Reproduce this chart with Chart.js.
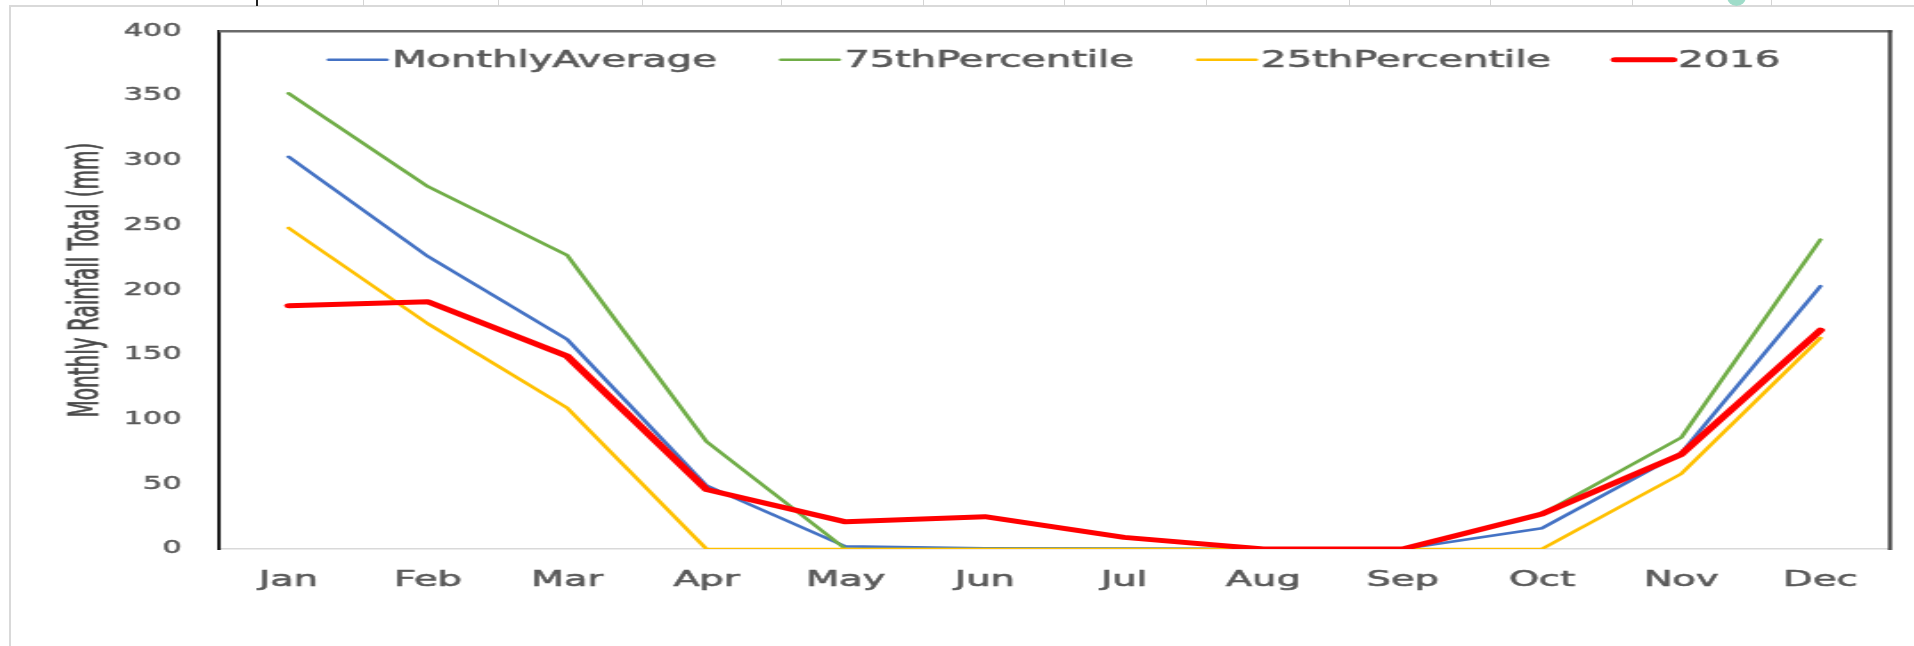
<!DOCTYPE html>
<html>
<head>
<meta charset="utf-8">
<title>Monthly Rainfall Total</title>
<script src="https://cdn.jsdelivr.net/npm/chart.js@4.4.1/dist/chart.umd.min.js"></script>
<style>
  html, body { margin: 0; padding: 0; background: #ffffff; }
  body { width: 1914px; height: 646px; overflow: hidden; position: relative; }
  #sheet { position: absolute; left: 0; top: 0; width: 1914px; height: 646px; }
  .frame { position: absolute; left: 9px; top: 5px; right: 0; bottom: 0;
           border-left: 2px solid #d9d9d9; border-top: 2px solid #d9d9d9; }
  .cellLine { position: absolute; top: 0; width: 1px; height: 6px; background: #d4d4d4; }
  .cursorLine { position: absolute; top: 0; left: 256px; width: 2px; height: 6px; background: #222; }
  .shape { position: absolute; left: 1727px; top: -13px; width: 19px; height: 19px;
           border-radius: 50%; background: #9fdcc9; }
  #stage { position: absolute; left: 0; top: 0; width: 1075px; height: 646px; transform-origin: 0 0; }
</style>
</head>
<body>
<div id="sheet">
  <div class="frame"></div>
  <div class="cursorLine"></div>
  <div class="shape"></div>
</div>
<div id="stage"><canvas id="chart" width="1075" height="646"></canvas></div>

<script>
// ---- data ----
const months = ['Jan', 'Feb', 'Mar', 'Apr', 'May', 'Jun', 'Jul', 'Aug', 'Sep', 'Oct', 'Nov', 'Dec'];
const monthlyAverage = [303, 226, 162, 49, 2, 0.5, 0.3, 0, 0, 16, 74, 203];
const percentile75   = [352, 280, 227, 83, 0, 0, 0, 0, 0, 27, 86, 239];
const percentile25   = [248, 174, 109, 0, 0, 0, 0, 0, 0, 0, 58, 163];
const rain2016       = [188, 191, 149, 46, 21, 25, 9, 0, 0, 27, 73, 169];
const seriesNames    = ['MonthlyAverage', '75thPercentile', '25thPercentile', '2016'];
const yTickValues    = [0, 50, 100, 150, 200, 250, 300, 350, 400];
const yTitle         = 'Monthly Rainfall Total (mm)';

// ---- spreadsheet gridlines above the chart ----
const cellEdges = [363, 498, 642, 781, 923, 1064, 1206, 1349, 1490, 1632, 1771];
const sheet = document.getElementById('sheet');
cellEdges.forEach(x => {
  const d = document.createElement('div');
  d.className = 'cellLine';
  d.style.left = x + 'px';
  sheet.appendChild(d);
});

// the chart is drawn narrow and widened horizontally to the page width
const CANVAS_W = 1075;
const STRETCH = 1914 / CANVAS_W;
document.getElementById('stage').style.transform = `scaleX(${STRETCH})`;

const FONT = "'DejaVu Sans', sans-serif";
Chart.defaults.font.family = FONT;
Chart.defaults.color = '#595959';

// legend drawn inside the plot area, centred along its top edge
const insideLegend = {
  id: 'insideLegend',
  afterDatasetsDraw(chart, args, opts) {
    const { ctx, chartArea } = chart;
    ctx.save();
    ctx.font = `${opts.size}px ${opts.family}`;
    const items = chart.data.datasets.map(ds => ({
      text: ds.label, color: ds.borderColor, width: ds.borderWidth,
      w: ctx.measureText(ds.label).width
    }));
    const total = items.reduce((s, it) => s + opts.sample + opts.gap + it.w, 0)
                + opts.spacing * (items.length - 1);
    let x = (chartArea.left + chartArea.right) / 2 - total / 2;
    const lineY = chartArea.top + opts.lineOffset;
    const textY = chartArea.top + opts.textOffset;
    for (const it of items) {
      ctx.strokeStyle = it.color;
      ctx.lineWidth = it.width;
      ctx.lineCap = 'round';
      ctx.beginPath();
      ctx.moveTo(x, lineY);
      ctx.lineTo(x + opts.sample, lineY);
      ctx.stroke();
      x += opts.sample + opts.gap;
      ctx.fillStyle = opts.color;
      ctx.textAlign = 'left';
      ctx.textBaseline = 'middle';
      ctx.fillText(it.text, x, textY);
      ctx.strokeStyle = opts.color;
      ctx.lineWidth = opts.strokeWidth;
      ctx.strokeText(it.text, x, textY);
      x += it.w + opts.spacing;
    }
    ctx.restore();
  }
};

// vertical axis title, glyphs slightly widened across the axis
const sideTitle = {
  id: 'sideTitle',
  afterDraw(chart, args, opts) {
    const { ctx } = chart;
    ctx.save();
    ctx.translate(opts.x, opts.y);
    ctx.rotate(-Math.PI / 2);
    ctx.scale(1, opts.heightScale);
    ctx.font = `${opts.size}px ${opts.family}`;
    ctx.fillStyle = opts.color;
    ctx.textAlign = 'center';
    ctx.textBaseline = 'middle';
    ctx.fillText(opts.text, 0, 0);
    ctx.strokeStyle = opts.color;
    ctx.lineWidth = opts.strokeWidth;
    ctx.strokeText(opts.text, 0, 0);
    ctx.restore();
  }
};

// top and right edges of the plot frame
const plotFrame = {
  id: 'plotFrame',
  afterDraw(chart, args, opts) {
    const { ctx, chartArea: { left, right, top, bottom } } = chart;
    ctx.save();
    ctx.lineCap = 'butt';
    ctx.strokeStyle = opts.topColor;
    ctx.lineWidth = opts.topWidth;
    ctx.beginPath();
    ctx.moveTo(left, top);
    ctx.lineTo(right + opts.rightWidth / 2, top);
    ctx.stroke();
    ctx.strokeStyle = opts.rightColor;
    ctx.lineWidth = opts.rightWidth;
    ctx.beginPath();
    ctx.moveTo(right, top - 1);
    ctx.lineTo(right, bottom + 1);
    ctx.stroke();
    ctx.restore();
  }
};

const seriesValues = [monthlyAverage, percentile75, percentile25, rain2016];
const seriesColors = ['#4472C4', '#70AD47', '#FFC000', '#FF0000'];
const seriesWidths = [2.6, 2.6, 2.6, 5];
const seriesOrder  = [3, 2, 1, 0];   // 2016 on top

new Chart(document.getElementById('chart'), {
  type: 'line',
  data: {
    labels: months,
    datasets: seriesNames.map((name, i) => ({
      label: name,
      data: seriesValues[i],
      borderColor: seriesColors[i],
      backgroundColor: seriesColors[i],
      borderWidth: seriesWidths[i],
      borderJoinStyle: 'round',
      borderCapStyle: 'round',
      pointRadius: 0,
      pointHoverRadius: 0,
      tension: 0,
      fill: false,
      order: seriesOrder[i]
    }))
  },
  options: {
    responsive: false,
    animation: false,
    devicePixelRatio: 1,
    layout: { padding: { left: 0, right: 13.5, top: 24, bottom: 0 } },
    plugins: {
      legend: { display: false },
      tooltip: { enabled: false },
      insideLegend: {
        size: 22.5, family: FONT, color: '#595959', strokeWidth: 0.6,
        sample: 32.5, gap: 3, spacing: 36, lineOffset: 28.5, textOffset: 30
      },
      sideTitle: {
        text: yTitle, x: 49, y: 280, size: 20, family: FONT,
        color: '#4a4a4a', strokeWidth: 0.5, heightScale: 1.18
      },
      plotFrame: { topColor: '#6a6a6a', topWidth: 2.5, rightColor: '#404040', rightWidth: 2.2 }
    },
    scales: {
      x: {
        offset: true,
        grid: { display: false, drawTicks: false },
        border: { display: true, color: '#d9d9d9', width: 1.5 },
        ticks: {
          font: { size: 21.5 }, color: '#595959', padding: 19, maxRotation: 0, autoSkip: false,
          textStrokeColor: '#595959', textStrokeWidth: 0.6
        },
        afterFit(scale) { scale.height = 97; }
      },
      y: {
        min: 0,
        max: 400,
        grid: { display: false, drawTicks: false },
        border: { display: true, color: '#111111', width: 1.9 },
        afterBuildTicks(scale) { scale.ticks = yTickValues.map(v => ({ value: v })); },
        ticks: {
          font: { size: 17 }, color: '#595959', padding: 21,
          textStrokeColor: '#595959', textStrokeWidth: 0.5
        },
        title: { display: false },
        afterFit(scale) { scale.width = 123; }
      }
    }
  },
  plugins: [insideLegend, sideTitle, plotFrame]
});
</script>
</body>
</html>
